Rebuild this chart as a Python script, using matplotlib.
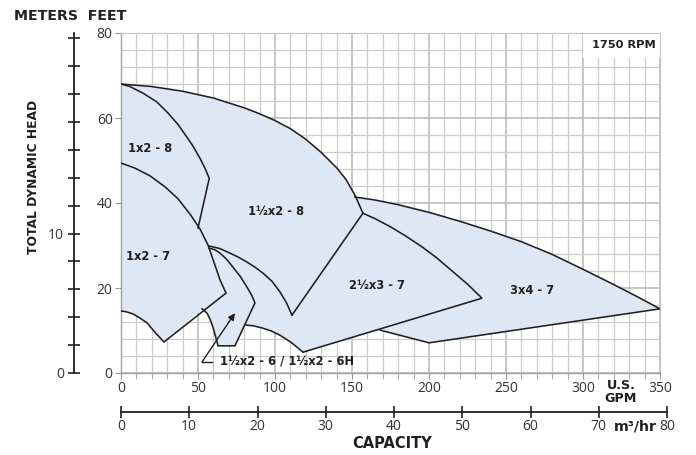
import matplotlib
matplotlib.use("Agg")
import matplotlib.pyplot as plt
from matplotlib.patches import Polygon, Rectangle
import numpy as np

plt.rcParams['font.family'] = ['Open Sans', 'DejaVu Sans']

# ---------------- data (GPM, feet) ----------------
# 1 1/2x2-8 max-impeller head curve (outer top)
c15x2_8_g = [0, 20, 40, 60, 80, 90, 100, 110, 120, 130, 140, 146, 152, 157.1]
c15x2_8_f = [68.0, 67.4, 66.3, 64.7, 62.4, 61.0, 59.4, 57.5, 55.0, 51.9, 48.3, 45.6, 41.8, 37.6]
# 1x2-8 curve and its end-of-curve line
c1x2_8_g = [0, 5.8, 14.5, 23.2, 30.7, 37.2, 42.6, 46.9, 51.3, 54.5, 57.3, 50.0]
c1x2_8_f = [68.0, 67.4, 65.8, 63.8, 61.1, 58.4, 55.6, 53.3, 50.5, 48.2, 45.8, 34.1]
# 1x2-7 curve, end line and min curve
c1x2_7_g = [0, 9.1, 18.8, 28.6, 37.0, 44.8, 51.3, 56.5, 61.0, 64.3, 68.2,
            27.9, 22.0, 16.9, 12.0, 7.8, 3.5, 0]
c1x2_7_f = [49.4, 48.2, 46.4, 43.8, 41.0, 37.4, 33.9, 30.1, 25.4, 21.9, 18.8,
            7.3, 9.6, 11.8, 13.0, 13.9, 14.4, 14.6]
# 1 1/2x2-8 end line and lower curve
e15x2_8_g = [157.1, 111.0]
e15x2_8_f = [37.6, 13.6]
l15x2_8_g = [57.1, 64.0, 70.8, 76.0, 81.8, 87.0, 92.2, 98.0, 103.2, 107.5, 111.0]
l15x2_8_f = [29.9, 29.3, 28.2, 27.3, 26.1, 24.9, 23.5, 21.6, 19.1, 16.5, 13.6]
# 2 1/2x3-7
c25x3_7_g = [157.1, 165, 175, 185, 195, 205, 215, 225, 234.4, 118.2]
c25x3_7_f = [37.6, 36.3, 34.4, 32.2, 29.8, 27.1, 24.0, 20.9, 17.6, 4.9]
# 3x4-7
c3x4_7_g = [151.9, 165, 180, 200, 220, 240, 260, 280, 300, 320, 335, 350, 200, 168.2]
c3x4_7_f = [41.4, 40.7, 39.6, 37.8, 35.7, 33.4, 30.9, 27.9, 24.4, 20.8, 18.0, 15.1, 7.1, 10.1]
# lower boundary curve
low_g = [80.3, 86.0, 91.6, 97.5, 103.2, 110.5, 118.2]
low_f = [11.3, 11.1, 10.6, 9.9, 8.9, 7.2, 4.9]
# 1 1/2x2-6 / 6H
c15x2_6_g = [57.1, 61.0, 64.3, 68.5, 72.7, 77.5, 81.8, 85.0, 87.0,
             74.0, 63.0, 61.4, 59.7, 57.8, 55.8, 52.6]
c15x2_6_f = [29.4, 29.0, 28.2, 26.8, 24.9, 22.7, 20.2, 18.2, 16.5,
             6.4, 6.4, 8.6, 10.8, 12.7, 14.1, 15.1]
# arrow (tail tick, tail, head)
arrow_g = [59.1, 52.6, 74.0]
arrow_f = [2.6, 2.6, 14.1]

pump_labels = ["1x2 - 8", "1\u00bdx2 - 8", "1x2 - 7", "2\u00bdx3 - 7", "3x4 - 7"]
small_label = "1\u00bdx2 - 6 / 1\u00bdx2 - 6H"
gpm_ticks = [0, 50, 100, 150, 200, 250, 300, 350]
ft_ticks = [0, 20, 40, 60, 80]
m3_ticks = [0, 10, 20, 30, 40, 50, 60, 70, 80]
meter_ticks = list(range(0, 25, 2))
meter_labels = {0: "0", 10: "10"}

# ---------------- figure ----------------
W, H = 696, 455
fig = plt.figure(figsize=(W / 100, H / 100), dpi=100)
L, R, B, T = 121, 660, 373, 33
ax = fig.add_axes([L / W, 1 - B / H, (R - L) / W, (B - T) / H])
ax.set_xlim(0, 350)
ax.set_ylim(0, 80)

ink = '#231f20'
fill_c = '#dee7f4'
BF = ['DejaVu Sans']

ax.set_xticks(gpm_ticks)
ax.set_xticks(np.arange(0, 351, 10), minor=True)
ax.set_yticks(ft_ticks)
ax.set_yticks(np.arange(0, 81, 4), minor=True)
ax.grid(which='minor', color='#cccccc', lw=0.9, zorder=0)
ax.grid(which='major', color='#b8b8b8', lw=1.1, zorder=0)
ax.set_axisbelow(True)
for s in ['top', 'right']:
    ax.spines[s].set_color('#c4c4c4')
for s in ['left', 'bottom']:
    ax.spines[s].set_color('#a0a0a0')
    ax.spines[s].set_linewidth(1.0)
ax.tick_params(axis='x', which='both', direction='out', length=4, color='#999999',
               labelsize=10, labelcolor='#333333', pad=2)
ax.tick_params(axis='y', which='major', direction='out', length=4, color='#999999',
               labelsize=10, labelcolor='#333333', pad=2)
ax.tick_params(axis='y', which='minor', length=0)
ax.set_xticklabels([str(v) for v in gpm_ticks])

# fill (union outline assembled from the curves)
top_part = [(g, f) for g, f in zip(c15x2_8_g, c15x2_8_f) if g < c3x4_7_g[0]]
outline = list(top_part)
outline += list(zip(c3x4_7_g, c3x4_7_f))
outline += [(c25x3_7_g[-1], c25x3_7_f[-1])]
outline += list(zip(low_g[::-1], low_f[::-1]))[1:]
outline += list(zip(c15x2_6_g[9:], c15x2_6_f[9:]))
outline += list(zip(c1x2_7_g[11:], c1x2_7_f[11:]))
ax.add_patch(Polygon(outline, closed=True, facecolor=fill_c, edgecolor='none', zorder=2))

lw = 1.15
for g, f in [(c15x2_8_g, c15x2_8_f), (c1x2_8_g, c1x2_8_f), (c1x2_7_g, c1x2_7_f),
             (e15x2_8_g, e15x2_8_f), (l15x2_8_g, l15x2_8_f), (c25x3_7_g, c25x3_7_f),
             (c3x4_7_g, c3x4_7_f), (low_g, low_f), (c15x2_6_g, c15x2_6_f)]:
    ax.plot(g, f, color=ink, lw=lw, zorder=3, solid_joinstyle='miter')

# arrow
ax.plot(arrow_g[:2], arrow_f[:2], color=ink, lw=1.0, zorder=4)
ax.annotate('', xy=(arrow_g[2], arrow_f[2]), xytext=(arrow_g[1], arrow_f[1]),
            arrowprops=dict(arrowstyle='-|>', color=ink, lw=1.0, mutation_scale=10,
                            shrinkA=0, shrinkB=0), zorder=4)

# pump labels
lab_pos = [(18.8, 52.9), (100.6, 38.1), (17.5, 27.5), (166, 20.5), (267, 19.3)]
for t, (x, y) in zip(pump_labels, lab_pos):
    ax.text(x, y, t, ha='center', va='center', fontsize=8.3, fontweight='bold',
            family=BF, color=ink, zorder=5)
ax.text(64.3, 2.6, small_label, ha='left', va='center',
        fontsize=8.3, fontweight='bold', family=BF, color=ink, zorder=5)

# rpm box
ax.add_patch(Rectangle((300, 74.2), 50, 5.8, facecolor='white', edgecolor='none', zorder=1.5))
ax.text(347.5, 77.1, "1750 RPM", ha='right', va='center', fontsize=8.2,
        fontweight='bold', family=BF, color=ink, zorder=5)

# meters axis
mL = 74
axm = fig.add_axes([mL / W, 1 - B / H, 0.0005, (B - T) / H])
axm.set_ylim(0, 80 * 0.3048)
axm.set_xticks([])
for s in ['top', 'right', 'bottom']:
    axm.spines[s].set_visible(False)
axm.spines['left'].set_bounds(0, 24.4)
axm.spines['left'].set_color(ink)
axm.spines['left'].set_linewidth(1.3)
axm.patch.set_visible(False)
axm.set_yticks(meter_ticks)
axm.set_yticklabels([meter_labels.get(v, "") for v in meter_ticks])
axm.tick_params(axis='y', direction='inout', length=8, width=1.2, color=ink,
                labelsize=10, labelcolor='#333333', pad=3)

# m3/hr axis (80 m3/hr ~ 352 GPM)
cB = 412
c80 = 667
axc = fig.add_axes([L / W, 1 - cB / H, (c80 - L) / W, 0.0005])
axc.set_xlim(0, 80)
axc.set_yticks([])
for s in ['top', 'right', 'left']:
    axc.spines[s].set_visible(False)
axc.spines['bottom'].set_color(ink)
axc.spines['bottom'].set_linewidth(1.3)
axc.patch.set_visible(False)
axc.set_xticks(m3_ticks)
axc.set_xticklabels([str(v) for v in m3_ticks])
axc.tick_params(axis='x', direction='inout', length=8, width=1.2, color=ink,
                labelsize=10, labelcolor='#333333', pad=1)

# axis titles
bold = dict(fontweight='bold', color=ink, family=BF)
fig.text(14 / W, 1 - 16 / H, "METERS  FEET", ha='left', va='center', fontsize=10.2, **bold)
fig.text(34 / W, 1 - 177 / H, "TOTAL DYNAMIC HEAD", ha='center', va='center',
         rotation=90, fontsize=8.8, **bold)
fig.text(621 / W, 1 - 392 / H, "U.S.\nGPM", ha='center', va='center', fontsize=9.2,
         linespacing=1.0, **bold)
fig.text(635 / W, 1 - 426 / H, "m\u00b3/hr", ha='center', va='center', fontsize=10.2, **bold)
fig.text(392 / W, 1 - 443 / H, "CAPACITY", ha='center', va='center', fontsize=10.5, **bold)

fig.savefig("out.png", dpi=100)
